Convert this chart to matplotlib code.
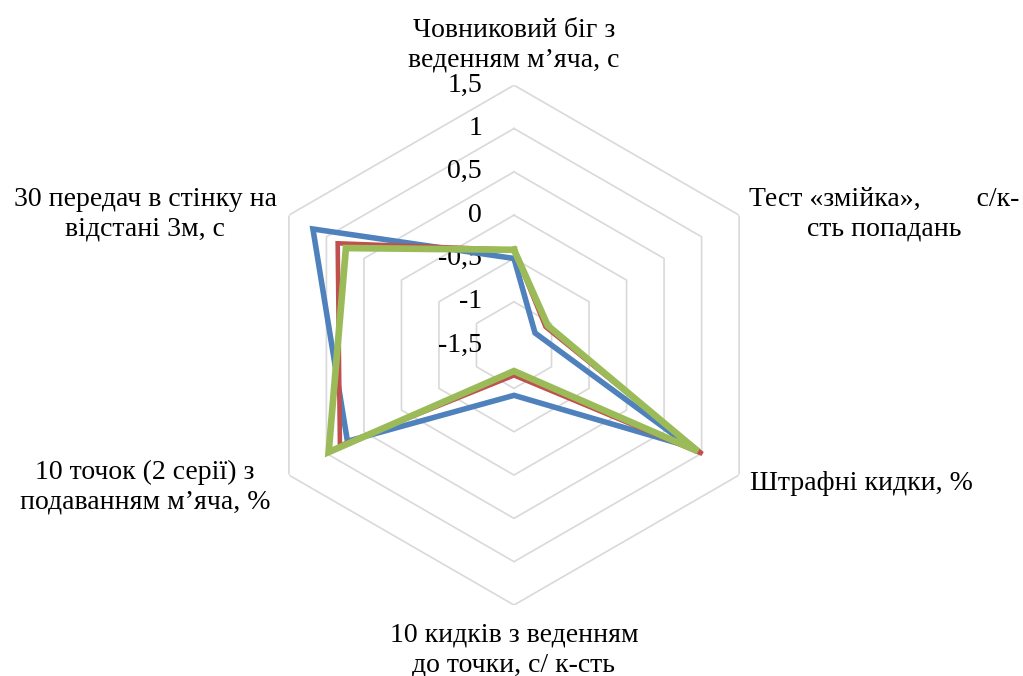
import numpy as np
import matplotlib
matplotlib.use("Agg")
import matplotlib.pyplot as plt
from matplotlib.transforms import offset_copy

plt.rcParams["font.family"] = ["Liberation Serif", "DejaVu Serif"]

categories = [
    "Човниковий біг з\nведенням м\u2019яча, с",
    "Тест «змійка»,        с/к-\nсть попадань",
    "Штрафні кидки, %",
    "10 кидків з веденням\nдо точки, с/ к-сть",
    "10 точок (2 серії) з\nподаванням м\u2019яча, %",
    "30 передач в стінку на\nвідстані 3м, с",
]
series_blue = [-0.50, -1.22, 0.85, -0.92, 0.72, 1.18]
series_red = [-0.40, -1.08, 1.01, -1.15, 0.82, 0.85]
series_green = [-0.40, -1.05, 0.95, -1.20, 0.97, 0.74]
ticks = [-1.5, -1.0, -0.5, 0.0, 0.5, 1.0, 1.5]

COLORS = {"blue": "#4F81BD", "red": "#C0504D", "green": "#9BBB59", "grid": "#D9D9D9"}

n = len(categories)
theta = np.arange(n) * 2 * np.pi / n
theta_c = np.append(theta, theta[0])

fig = plt.figure(figsize=(10.23, 6.76), dpi=100)
ax = fig.add_axes([0.2483, 0.105, 0.5083, 0.769], projection="polar")
ax.set_theta_zero_location("N")
ax.set_theta_direction(-1)
ax.set_ylim(ticks[0], ticks[-1])
ax.grid(False)
ax.spines["polar"].set_visible(False)
ax.set_xticks([])
ax.set_yticks([])
ax.patch.set_alpha(0)

# hexagonal rings
for t in ticks[1:]:
    ax.plot(theta_c, [t] * (n + 1), color=COLORS["grid"], lw=1.2, zorder=1)

# tick labels left of top spoke
tr = offset_copy(ax.transData, fig=fig, x=-32, y=0, units="dots")
for t in ticks:
    lab = ("%g" % t).replace(".", ",")
    ax.text(0, t, lab, transform=tr, ha="right", va="center", fontsize=20, color="#000000")

for vals, key, lw in [(series_blue, "blue", 4.0), (series_red, "red", 3.3), (series_green, "green", 4.8)]:
    ax.plot(theta_c, vals + vals[:1], color=COLORS[key], lw=lw, zorder=3,
            solid_joinstyle="miter")

W, H = 1023, 676
label_pos = [
    (514, 45),
    (884, 214),
    (861, 483),
    (514, 650),
    (145, 487),
    (145, 214),
]
for txt, (x, y) in zip(categories, label_pos):
    fig.text(x / W, 1 - y / H, txt, ha="center", va="center", fontsize=20, linespacing=1.25)

fig.savefig("out.png", dpi=100, facecolor="white")
